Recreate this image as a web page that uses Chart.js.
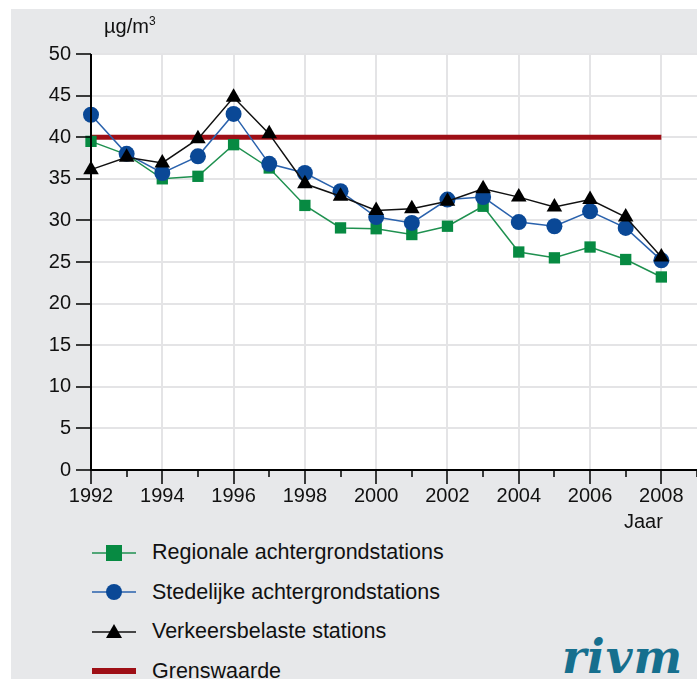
<!DOCTYPE html>
<html lang="nl">
<head>
  <meta charset="UTF-8" />
  <title>Stikstofdioxide concentratie</title>
  <style>
    * { box-sizing: border-box; margin: 0; padding: 0; }
    body {
      width: 697px;
      height: 679px;
      background: #ffffff;
      font-family: 'Liberation Sans', Arial, sans-serif;
      color: #111;
      position: relative;
      overflow: hidden;
    }
    .panel {
      position: absolute;
      left: 11px; top: 9px; right: 0; bottom: 0;
      background: #e7e8ea;
    }
    #chart { position: absolute; left: 0; top: 0; }
    .unit { position: absolute; left: 104px; top: 14px; font-size: 20px; }
    .unit sup { font-size: 12px; vertical-align: 8px; }
    .jaar { position: absolute; left: 624px; top: 510px; font-size: 20px; }
    .legend { position: absolute; left: 92px; top: 533px; }
    .legend div { height: 39.5px; display: flex; align-items: center; font-size: 21.5px; }
    .legend svg { margin-right: 16px; }
    .logo {
      position: absolute; left: 562px; top: 630px;
      font-family: 'DejaVu Serif', 'Liberation Serif', serif;
      font-style: italic; font-weight: bold;
      font-size: 46px; color: #166f8e; letter-spacing: 1px;
    }
  </style>
</head>
<body>
  <div class="panel"></div>
  <canvas id="chart" width="706" height="520"></canvas>
  <div class="unit">µg/m<sup>3</sup></div>
  <div class="jaar">Jaar</div>
  <div class="legend" id="legend"></div>
  <div class="logo">rivm</div>

  <script src="https://cdn.jsdelivr.net/npm/chart.js"></script>
  <script>
const years = [1992, 1993, 1994, 1995, 1996, 1997, 1998, 1999, 2000,
               2001, 2002, 2003, 2004, 2005, 2006, 2007, 2008];
const regionaal = [39.5, 37.9, 35.0, 35.3, 39.1, 36.3, 31.8, 29.1, 29.0,
                   28.3, 29.3, 31.7, 26.2, 25.5, 26.8, 25.3, 23.2];
const stedelijk = [42.7, 38.0, 35.7, 37.7, 42.8, 36.8, 35.7, 33.5, 30.4,
                   29.7, 32.5, 32.8, 29.8, 29.3, 31.1, 29.1, 25.2];
const verkeer = [36.1, 37.6, 36.9, 39.8, 44.8, 40.4, 34.4, 32.9, 31.2,
                 31.4, 32.3, 33.8, 32.8, 31.6, 32.5, 30.4, 25.6];
const grenswaarde = 40;
const yTicks = [0, 5, 10, 15, 20, 25, 30, 35, 40, 45, 50];

const pts = arr => arr.map((v, i) => ({ x: years[i], y: v }));

const series = [
  { label: 'Regionale achtergrondstations', data: regionaal, line: '#1f9150', fill: '#078a42', style: 'rect', r: 8 },
  { label: 'Stedelijke achtergrondstations', data: stedelijk, line: '#2a62ad', fill: '#0a4896', style: 'circle', r: 8 },
  { label: 'Verkeersbelaste stations', data: verkeer, line: '#111111', fill: '#000000', style: 'triangle', r: 9 }
];

const datasets = series.map((s, i) => ({
  label: s.label,
  data: pts(s.data),
  borderColor: s.line,
  borderWidth: 1.5,
  backgroundColor: s.fill,
  pointBackgroundColor: s.fill,
  pointBorderColor: s.fill,
  pointBorderWidth: 0,
  pointStyle: s.style,
  pointRadius: s.r,
  tension: 0,
  clip: false,
  order: 3 - i
}));
datasets.push({
  label: 'Grenswaarde',
  data: [{ x: years[0], y: grenswaarde }, { x: years[years.length - 1], y: grenswaarde }],
  borderColor: '#9e0f16',
  borderWidth: 5,
  pointRadius: 0,
  order: 5
});

// white plot area + tick marks
const plotStyle = {
  id: 'plotStyle',
  beforeDraw(chart) {
    const { ctx, chartArea: a } = chart;
    ctx.save();
    ctx.fillStyle = '#ffffff';
    ctx.fillRect(a.left, a.top, a.right - a.left + 2, a.bottom - a.top);
    ctx.restore();
  },
  afterDatasetsDraw(chart) {
    const { ctx, chartArea: a, scales } = chart;
    ctx.save();
    ctx.strokeStyle = '#000';
    ctx.lineWidth = 1.5;
    ctx.beginPath();
    for (let yr = 1992; yr <= 2009; yr++) {
      const px = Math.round(scales.x.getPixelForValue(yr));
      ctx.moveTo(px, a.bottom);
      ctx.lineTo(px, a.bottom + (yr % 2 === 0 ? 14 : 7));
    }
    yTicks.forEach(v => {
      const py = Math.round(scales.y.getPixelForValue(v));
      ctx.moveTo(a.left - 15, py);
      ctx.lineTo(a.left, py);
    });
    ctx.stroke();
    ctx.lineWidth = 2;
    ctx.beginPath();
    ctx.moveTo(a.left, a.top);
    ctx.lineTo(a.left, a.bottom);
    ctx.lineTo(a.right + 2, a.bottom);
    ctx.stroke();
    ctx.restore();
  }
};

new Chart(document.getElementById('chart'), {
  type: 'line',
  data: { datasets },
  plugins: [plotStyle],
  options: {
    responsive: false,
    animation: false,
    layout: { padding: { top: 54, left: 0, right: 0, bottom: 0 } },
    plugins: { legend: { display: false }, tooltip: { enabled: false } },
    scales: {
      x: {
        type: 'linear',
        min: 1992,
        max: 2009,
        afterFit(scale) { scale.height = 50; scale.paddingRight = 0; },
        ticks: {
          stepSize: 1,
          autoSkip: false,
          maxRotation: 0,
          padding: 14,
          color: '#111',
          font: { family: 'Liberation Sans', size: 20 },
          callback: v => (v % 2 === 0 && v <= 2008 ? String(v) : '')
        },
        grid: {
          drawTicks: false,
          lineWidth: 2,
          color: c => (c.tick && c.tick.value % 2 === 0 ? '#e4e4e6' : 'rgba(0,0,0,0)')
        },
        border: { display: false }
      },
      y: {
        min: 0,
        max: 50,
        afterFit(scale) { scale.width = 91; },
        ticks: {
          stepSize: 5,
          padding: 20,
          color: '#111',
          font: { family: 'Liberation Sans', size: 20 }
        },
        grid: { drawTicks: false, lineWidth: 2, color: '#e4e4e6' },
        border: { display: false }
      }
    }
  }
});

// legend
const legendEl = document.getElementById('legend');
const iconFor = s => {
  let m = '';
  if (s.style === 'rect') m = `<rect x="14" y="4" width="16" height="16" fill="${s.fill}"/>`;
  if (s.style === 'circle') m = `<circle cx="22" cy="12" r="8" fill="${s.fill}"/>`;
  if (s.style === 'triangle') m = `<polygon points="22,4 30,18 14,18" fill="${s.fill}"/>`;
  return `<svg width="44" height="24"><line x1="0" y1="12" x2="44" y2="12" stroke="${s.line}" stroke-width="1.5"/>${m}</svg>`;
};
series.forEach(s => {
  const d = document.createElement('div');
  d.innerHTML = iconFor(s) + s.label;
  legendEl.appendChild(d);
});
const g = document.createElement('div');
g.innerHTML = '<svg width="44" height="24"><line x1="0" y1="12" x2="44" y2="12" stroke="#9e0f16" stroke-width="6"/></svg>Grenswaarde';
legendEl.appendChild(g);
  </script>
</body>
</html>
